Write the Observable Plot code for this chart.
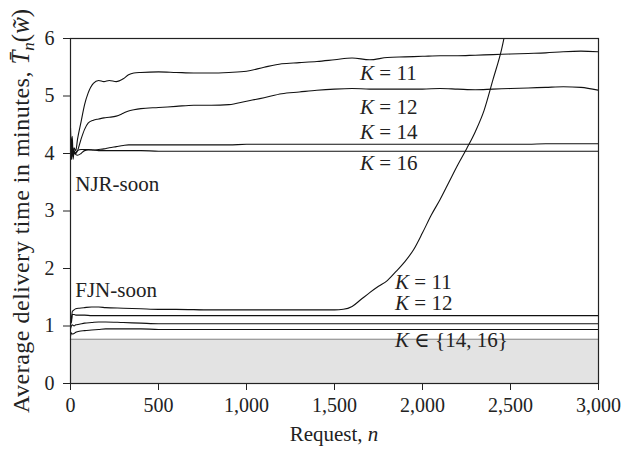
<!DOCTYPE html>
<html>
<head>
<meta charset="utf-8">
<script src="https://cdn.jsdelivr.net/npm/d3@7"></script>
<script src="https://cdn.jsdelivr.net/npm/@observablehq/plot@0.6"></script>
<style>
  html, body { margin: 0; padding: 0; background: #fff; }
  #chart svg { display: block; }
  #chart svg, #chart svg text { font-family: "Liberation Serif", "DejaVu Serif", serif !important; }
</style>
</head>
<body>
<div id="chart"></div>
<script>
// ---- data ----
const nNJR = [0, 5, 10, 15, 20, 30, 40, 60, 80, 100, 130, 160, 190, 220, 260, 300, 330, 360, 400, 500, 600, 700, 800, 900, 1000, 1100, 1200, 1300, 1400, 1500, 1600, 1700, 1800, 1900, 2000, 2100, 2200, 2300, 2400, 2500, 2600, 2700, 2800, 2900, 3000];
const njrK11 = [4.45, 4.1, 4.3, 3.95, 4.1, 4.05, 4.25, 4.55, 4.85, 5.05, 5.22, 5.27, 5.25, 5.27, 5.25, 5.3, 5.37, 5.4, 5.41, 5.42, 5.41, 5.4, 5.4, 5.41, 5.43, 5.5, 5.56, 5.58, 5.6, 5.63, 5.66, 5.63, 5.67, 5.68, 5.69, 5.7, 5.7, 5.71, 5.72, 5.73, 5.74, 5.75, 5.77, 5.78, 5.77];
const njrK12 = [4.0, 3.9, 4.1, 3.95, 4.0, 4.0, 4.05, 4.25, 4.42, 4.53, 4.58, 4.6, 4.62, 4.63, 4.65, 4.7, 4.74, 4.76, 4.78, 4.8, 4.82, 4.84, 4.84, 4.85, 4.91, 4.97, 5.04, 5.07, 5.1, 5.12, 5.13, 5.12, 5.12, 5.12, 5.12, 5.13, 5.12, 5.11, 5.12, 5.13, 5.14, 5.15, 5.16, 5.15, 5.1];
const njrK14 = [4.2, 3.95, 4.1, 3.9, 4.05, 3.98, 3.97, 4.0, 4.05, 4.06, 4.06, 4.07, 4.08, 4.1, 4.12, 4.14, 4.15, 4.15, 4.15, 4.15, 4.15, 4.15, 4.15, 4.15, 4.16, 4.16, 4.16, 4.16, 4.16, 4.16, 4.16, 4.16, 4.16, 4.16, 4.16, 4.16, 4.16, 4.16, 4.16, 4.16, 4.16, 4.17, 4.17, 4.17, 4.17];
const njrK16 = [4.3, 3.9, 4.15, 3.95, 4.0, 4.02, 4.05, 4.07, 4.07, 4.07, 4.06, 4.05, 4.05, 4.05, 4.05, 4.05, 4.05, 4.05, 4.05, 4.04, 4.04, 4.04, 4.04, 4.04, 4.04, 4.04, 4.04, 4.04, 4.04, 4.04, 4.04, 4.04, 4.04, 4.04, 4.04, 4.04, 4.04, 4.04, 4.04, 4.04, 4.04, 4.04, 4.04, 4.04, 4.04];

const nFJN11 = [0, 5, 10, 20, 30, 50, 80, 120, 160, 200, 300, 400, 500, 600, 800, 1000, 1200, 1400, 1500, 1550, 1600, 1650, 1700, 1750, 1800, 1850, 1900, 1950, 2000, 2050, 2100, 2150, 2200, 2250, 2300, 2350, 2400, 2450, 2500];
const fjnK11 = [1.2, 1.1, 1.25, 1.28, 1.3, 1.31, 1.32, 1.33, 1.33, 1.32, 1.31, 1.3, 1.29, 1.29, 1.28, 1.28, 1.28, 1.28, 1.28, 1.29, 1.34, 1.46, 1.58, 1.69, 1.79, 1.95, 2.12, 2.33, 2.62, 2.93, 3.2, 3.5, 3.8, 4.08, 4.38, 4.75, 5.28, 5.82, 6.6];

const nFJN = [0, 5, 10, 20, 30, 50, 80, 120, 160, 200, 300, 400, 500, 1000, 1500, 2000, 2500, 3000];
const fjnK12 = [1.12, 1.05, 1.2, 1.2, 1.19, 1.19, 1.19, 1.18, 1.18, 1.18, 1.18, 1.18, 1.18, 1.18, 1.18, 1.18, 1.18, 1.18];
const fjnK14 = [0.95, 1.0, 1.02, 1.0, 1.02, 1.03, 1.05, 1.06, 1.07, 1.07, 1.06, 1.05, 1.04, 1.04, 1.04, 1.04, 1.04, 1.04];
const fjnK16 = [0.82, 0.88, 0.86, 0.87, 0.89, 0.91, 0.92, 0.93, 0.94, 0.95, 0.95, 0.95, 0.94, 0.94, 0.94, 0.94, 0.94, 0.94];

const boundN = [0, 3000];
const boundVal = [0.77, 0.77];

const xTicks = [0, 500, 1000, 1500, 2000, 2500, 3000];
const yTicks = [0, 1, 2, 3, 4, 5, 6];

// annotations
const annoK = ["K", "K", "K", "K", "K", "K", "K"];
const annoRest = [" = 11", " = 12", " = 14", " = 16", " = 11", " = 12", " \u2208 {14, 16}"];
const annoN = [1648, 1648, 1648, 1648, 1847, 1847, 1847];
const annoV = [5.39, 4.8, 4.38, 3.83, 1.77, 1.39, 0.75];
const groupLabels = ["NJR-soon", "FJN-soon"];
const groupN = [30, 30];
const groupV = [3.47, 1.62];

// ---- build tables ----
const toRows = (ns, vs) => ns.map((n, i) => ({n, v: vs[i]}));
const lines = [
  toRows(nNJR, njrK11), toRows(nNJR, njrK12), toRows(nNJR, njrK14), toRows(nNJR, njrK16),
  toRows(nFJN11, fjnK11), toRows(nFJN, fjnK12), toRows(nFJN, fjnK14), toRows(nFJN, fjnK16)
];
const bound = toRows(boundN, boundVal);

const FONT = "Liberation Serif, DejaVu Serif, serif";

const plot = Plot.plot({
  width: 622,
  height: 451,
  marginLeft: 70,
  marginRight: 24,
  marginTop: 38,
  marginBottom: 68,
  style: {fontFamily: FONT, fontSize: "20px", color: "#222", background: "#fff"},
  x: {domain: [0, 3000]},
  y: {domain: [0, 6]},
  marks: [
    Plot.areaY(bound, {x: "n", y: "v", fill: "#e3e3e3"}),
    Plot.lineY(bound, {x: "n", y: "v", stroke: "#888", strokeWidth: 1.2}),
    ...lines.map(d => Plot.lineY(d, {x: "n", y: "v", stroke: "#111", strokeWidth: 1.1, curve: "monotone-x", clip: true})),
    Plot.frame({stroke: "#222", strokeWidth: 1.2}),
    Plot.axisX({ticks: xTicks, tickFormat: d3.format(","), tickSize: 7, tickPadding: 7, label: null, fontSize: 20}),
    Plot.axisY({ticks: yTicks, tickFormat: d3.format("d"), tickSize: 7, tickPadding: 9, label: null, fontSize: 20})
  ]
});

document.getElementById("chart").appendChild(plot);

const svg = d3.select(plot);
svg.selectAll('g[aria-label$="tick label"]').attr("font-size", 20).style("font-size", "20px")
  .selectAll("text").style("font-size", "20px");
const sx = plot.scale("x"), sy = plot.scale("y");

groupLabels.forEach((t, i) => {
  svg.append("text")
    .attr("x", sx.apply(groupN[i])).attr("y", sy.apply(groupV[i]))
    .attr("dy", "0.35em").attr("text-anchor", "start")
    .attr("font-size", 21).attr("fill", "#222")
    .text(t);
});

annoK.forEach((k, i) => {
  const t = svg.append("text")
    .attr("x", sx.apply(annoN[i])).attr("y", sy.apply(annoV[i]))
    .attr("dy", "0.35em").attr("text-anchor", "start")
    .attr("font-size", 21).attr("fill", "#222");
  t.append("tspan").attr("font-style", "italic").text(k);
  t.append("tspan").text(annoRest[i]);
});

const xl = svg.append("text")
  .attr("x", (sx.range[0] + sx.range[1]) / 2).attr("y", 441)
  .attr("text-anchor", "middle")
  .attr("font-size", 21).attr("fill", "#222");
xl.append("tspan").text("Request, ");
xl.append("tspan").attr("font-style", "italic").text("n");

const yl = svg.append("text")
  .attr("transform", "translate(29,413) rotate(-90)")
  .attr("text-anchor", "start")
  .attr("font-size", 24).attr("fill", "#222");
yl.append("tspan").attr("letter-spacing", 0.5).text("Average delivery time in minutes, ");
yl.append("tspan").attr("font-style", "italic").attr("font-size", 25).text("T\u0304");
yl.append("tspan").attr("font-style", "italic").attr("font-size", 17).attr("dy", 5).text("n");
yl.append("tspan").attr("dy", -5).attr("font-size", 25).text("(");
yl.append("tspan").attr("font-style", "italic").attr("font-size", 25).text("w\u0303");
yl.append("tspan").attr("font-size", 25).text(")");
</script>
</body>
</html>
